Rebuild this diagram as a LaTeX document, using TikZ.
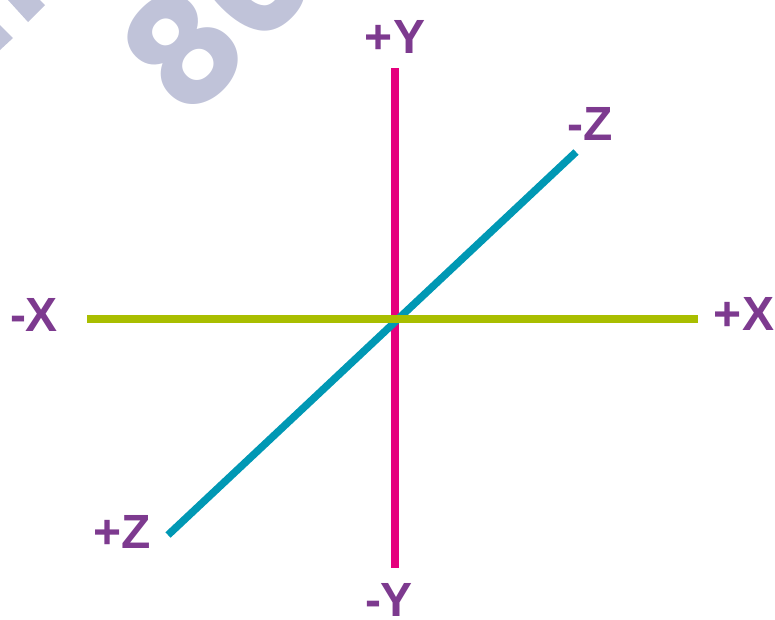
\documentclass[tikz,border=0pt]{standalone}
\usepackage{fontspec}
\setmainfont{Liberation Sans}
\newfontfamily\wmfont{Poppins}
\usetikzlibrary{positioning}
\definecolor{axlabel}{HTML}{7D3A8F}
\definecolor{ycol}{HTML}{E5007D}
\definecolor{xcol}{HTML}{A9BE00}
\definecolor{zcol}{HTML}{0098B4}
\definecolor{wmark}{HTML}{C0C3D9}

\begin{document}
\begin{tikzpicture}[x=1pt, y=-1pt,
  axis/.style={line width=7.5pt},
  lbl/.style={text=axlabel, font=\fontsize{48}{50}\selectfont\bfseries, inner sep=0pt, anchor=center}]
  \useasboundingbox (0,0) rectangle (775,619);
  \clip (0,0) rectangle (775,619);
  % watermark
  \node[text=wmark, rotate=45, font=\wmfont\fontsize{152}{156}\selectfont\bfseries, inner sep=0pt] (wm) at (218,14) {80};
  \fill[wmark] (8,0) -- (40,0) -- (45,5) -- (28,22) -- cycle;
  \fill[wmark] (0,25) -- (13,38) -- (0,50) -- cycle;
  % axis ends
  \coordinate (ytop) at (395,68);
  \coordinate (ybot) at (395,568);
  \coordinate (zfar) at (576,152);
  \coordinate (znear) at (168,535);
  \coordinate (xleft) at (87,319);
  \coordinate (xright) at (698,319);
  \draw[axis, ycol] (ytop) -- (ybot);
  \draw[axis, zcol] (znear) -- (zfar);
  \draw[axis, xcol] (xleft) -- (xright);
  \node[lbl] (yplus) at (395,37) {+Y};
  \node[lbl] (yminus) at (389,600) {-Y};
  \node[lbl] (xminus) at (34,315) {-X};
  \node[lbl] (xplus) at (744,314) {+X};
  \node[lbl] (zminus) at (590,124) {-Z};
  \node[lbl] (zplus) at (122,532) {+Z};
\end{tikzpicture}
\end{document}
